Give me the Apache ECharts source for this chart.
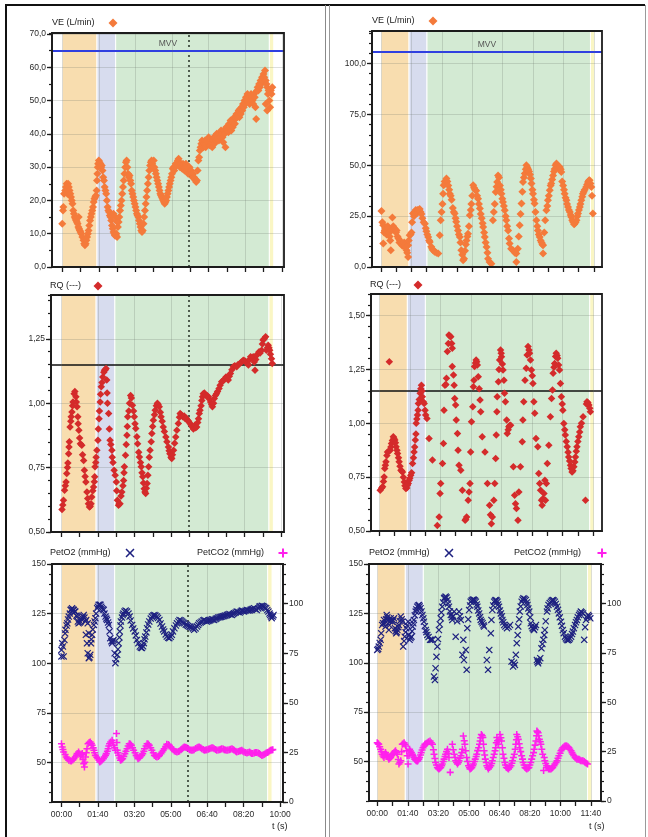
<!DOCTYPE html>
<html>
<head>
<meta charset="utf-8">
<script src="https://cdn.jsdelivr.net/npm/echarts@6/dist/echarts.min.js"></script>
<style>html,body{margin:0;padding:0;background:#fff;}#c{width:648px;height:837px;}</style>
</head>
<body>
<div id="c"></div>
<script>
// ---------------- DATA ----------------
// time in seconds, values in the units of each panel
const VE_L = [[0,13],[2,17],[3,18],[5,22],[8,23],[10,24],[12,25],[14,24],[14,22],[16,25],[18,24],[20,23],[22,22],[24,21],[26,20],[28,19],[30,17],[32,16],[34,15],[36,14.5],[38,14],[40,13.5],[42,13],[44,12],[46,11.5],[45,15],[48,11],[50,10.5],[52,10],[55,9],[58,8],[60,7],[62,6.5],[64,7],[66,8],[68,9],[70,10],[72,11],[74,12.5],[76,14],[78,15],[80,16],[82,17],[84,18],[86,19.5],[88,20.5],[90,21],[92,21.5],[94,23],[95,26],[96,28],[97,30],[98,31],[100,32],[102,31.5],[104,31],[106,30],[108,30.5],[110,29],[112,27],[114,26],[116,24],[118,23],[120,22],[122,20],[124,18],[126,17],[128,16.5],[130,15.5],[132,15],[134,14],[136,12.5],[138,11.5],[140,10.5],[142,10],[144,9.5],[146,9.5],[148,10],[150,9],[140,16],[145,15],[150,13.5],[152,12],[154,13.5],[156,15],[158,17],[160,18.5],[162,20],[164,22],[166,24],[168,26],[170,28],[172,30],[174,31.5],[176,32],[178,30],[180,28],[182,27],[184,27.5],[186,26],[188,25],[190,23],[192,22],[194,21],[196,20],[198,19],[200,18],[202,17],[204,16],[206,15.5],[208,15],[210,14],[212,13],[214,12],[216,11],[218,10.5],[220,11],[222,13],[224,15],[226,17],[228,19],[230,21],[232,23],[234,25],[236,27],[238,29],[240,30.5],[242,31.5],[244,32],[246,31],[248,30],[250,32],[252,30],[254,29],[256,28],[258,27],[260,26],[262,25],[264,24],[266,23],[268,22],[270,21.5],[272,21],[274,20.5],[276,20],[278,19.5],[280,19],[282,19.5],[284,20],[286,21],[288,22],[290,23],[292,24],[294,25],[296,26],[298,27],[300,28],[302,29.5],[304,30],[306,29],[308,30],[310,31],[312,30.5],[314,31],[316,32],[318,32.5],[320,31],[322,30],[324,31],[326,30],[328,29.5],[330,31],[332,30],[334,29],[336,30],[338,31],[340,29],[342,30],[344,28],[346,29],[348,30],[350,28.5],[352,29],[354,28],[356,27],[358,28],[360,27],[362,26.5],[364,26],[366,25.5],[368,26],[370,29],[372,32],[374,33],[376,35],[378,36],[380,37],[382,38],[384,36.5],[386,36],[388,37],[390,38],[392,36],[394,37],[396,38],[398,37],[400,39],[402,37],[404,36.5],[406,38],[408,37.5],[410,36],[412,38],[414,39],[416,37],[418,39],[420,38],[422,40],[424,38.5],[426,39],[428,38],[430,40],[432,39],[434,41],[436,40],[438,39],[440,37.5],[442,41],[444,40],[446,36],[448,42],[450,41],[452,42],[454,40.5],[456,43],[458,42],[460,44],[462,41],[464,43.5],[466,42],[468,44],[470,45],[472,43],[474,44.7],[476,46],[478,45],[480,46],[482,47],[484,45],[486,47.5],[488,46],[490,48],[492,47],[494,49],[496,48],[498,50],[500,49],[502,51],[504,50],[506,52],[508,50],[510,51],[512,49],[514,50.5],[516,52],[518,51],[520,50],[522,49],[524,52],[526,51],[528,48],[530,44.5],[532,53],[534,54],[536,53],[538,55],[540,54],[542,56],[544,55],[546,57],[548,56],[550,58],[552,57],[554,59],[556,56],[558,55],[560,54],[562,52],[564,53],[566,50],[568,48],[570,53],[572,52],[574,54],[560,47],[556,49]];

const VE_R = [[1,27.5],[4,22],[7,20.5],[7,11.5],[10,17],[12,18],[14,19],[16,19.6],[18,16],[20,18],[22,20],[24,19],[26,17],[28,15],[30,13],[32,8.2],[34,18],[37,24.3],[40,20],[43,19],[46,18.5],[49,17],[51,18],[54,15],[57,14],[60,12],[62,13],[65,12],[68,11],[70,10.5],[73,11],[76,12],[78,9.8],[80,11],[82,10],[84,8.2],[86,7],[89,4.9],[89,10.7],[91,13],[94,15.6],[97,16],[100,17],[102,22],[105,26.3],[108,25],[110,27],[112,26],[114,28],[116,27],[118,26.5],[120,28],[122,27],[124,27.9],[127,28.5],[130,27],[133,26],[136,24],[140,22],[144,21.3],[147,19],[149,17.6],[152,16],[155,14.8],[158,13],[160,12.3],[165,10],[168,9],[171,8.2],[176,7.5],[182,7],[188,6.6],[193,15.6],[196,23],[199,27],[202,31],[204,36],[206,40.2],[209,42],[212,41],[215,43.5],[218,42],[221,40],[224,38],[226,36],[229,35],[232,33],[236,29],[239,27],[242,26.3],[245,24],[247,22.3],[250,20],[253,18],[256,16],[259,14.8],[261,12],[264,8.2],[267,6],[270,3.3],[273,4],[276,8],[279,11],[281,13],[284,15],[286,16.4],[289,20],[292,25.4],[295,28],[297,31],[300,35],[303,40.2],[306,39],[309,38],[313,37.5],[316,35],[319,33.6],[322,31],[325,28.7],[328,26],[331,24],[334,21.5],[336,19.7],[339,17],[341,14.8],[344,12],[347,9.8],[350,7],[352,4.1],[357,2.5],[363,1.6],[368,23],[371,27],[374,31],[377,36.9],[380,39.5],[382,41.8],[385,45],[388,44],[391,40],[394,38],[396,36],[399,33.5],[401,31.9],[404,30],[407,27.9],[410,25],[412,23],[415,20],[418,18],[421,14],[423,11.5],[428,9],[434,8.2],[440,7],[445,6.6],[445,2.5],[450,9],[453,15],[456,20.5],[459,26],[462,31.2],[465,37],[467,41.8],[470,44],[473,45.9],[476,48],[478,50],[481,49],[484,48],[487,47],[490,45.5],[493,43.5],[495,41],[498,38],[500,36],[503,33],[505,31.2],[508,27],[511,23],[514,20],[516,18],[519,16],[522,14.8],[525,13],[528,12],[531,11],[533,10.7],[533,6.6],[537,17],[540,23],[544,27.9],[547,30],[549,32.8],[552,35],[555,37.7],[558,40],[560,41],[563,43],[566,45],[569,47],[571,48.2],[574,50],[577,50.9],[580,50],[583,49],[586,48],[588,49.2],[591,48],[593,46.7],[596,42],[599,40],[602,38],[604,36],[607,34],[610,32.8],[612,31],[615,29.5],[618,28],[621,27],[624,25.5],[626,24.6],[629,23],[632,22.1],[635,21],[637,21.3],[640,22],[643,23],[646,25],[648,26.3],[651,28],[654,29.5],[656,31],[659,32.8],[662,34.5],[664,36],[667,37],[670,38],[675,39.3],[678,40.5],[681,41.8],[684,42.5],[686,42.6],[689,41],[692,39.3],[694,35],[697,26.3]];

const RQ_L = [[2,0.587],[4,0.605],[6,0.623],[9,0.662],[11,0.68],[13,0.694],[15,0.727],[17,0.75],[18,0.768],[20,0.804],[21,0.83],[22,0.85],[24,0.908],[26,0.93],[27,0.947],[29,0.966],[31,0.99],[32,1.005],[35,1.037],[37,1.045],[40,1.025],[41,1.005],[43,0.986],[45,0.947],[46,0.92],[48,0.895],[50,0.865],[52,0.843],[56,0.837],[58,0.8],[61,0.778],[63,0.74],[65,0.715],[67,0.694],[70,0.655],[72,0.63],[74,0.61],[77,0.597],[79,0.6],[81,0.61],[83,0.636],[86,0.66],[88,0.675],[90,0.695],[91,0.714],[92,0.753],[94,0.77],[95,0.79],[97,0.817],[100,0.856],[101,0.9],[103,0.94],[104,0.97],[106,1.005],[107,1.035],[109,1.064],[111,1.08],[113,1.102],[116,1.12],[118,1.128],[120,1.13],[122,1.135],[124,1.09],[125,1.04],[126,1.0],[129,0.96],[131,0.9],[133,0.856],[135,0.84],[138,0.817],[139,0.79],[141,0.77],[144,0.74],[147,0.72],[150,0.694],[151,0.66],[153,0.623],[156,0.604],[158,0.61],[160,0.61],[163,0.64],[165,0.655],[168,0.68],[170,0.7],[171,0.73],[172,0.753],[175,0.798],[177,0.84],[179,0.876],[180,0.91],[181,0.947],[184,0.97],[186,1.0],[189,1.03],[191,1.02],[194,0.992],[197,0.97],[199,0.947],[201,0.92],[203,0.902],[206,0.87],[208,0.843],[211,0.81],[213,0.791],[216,0.77],[218,0.753],[220,0.73],[222,0.714],[224,0.69],[226,0.668],[228,0.655],[230,0.649],[232,0.67],[234,0.688],[236,0.72],[238,0.753],[240,0.79],[242,0.817],[245,0.85],[247,0.882],[249,0.91],[251,0.934],[254,0.955],[256,0.973],[259,0.99],[262,1.0],[264,0.995],[267,0.986],[270,0.965],[272,0.947],[275,0.93],[278,0.908],[281,0.89],[285,0.869],[288,0.85],[292,0.83],[294,0.815],[296,0.804],[299,0.79],[301,0.785],[303,0.8],[306,0.817],[309,0.845],[312,0.869],[315,0.895],[319,0.921],[322,0.945],[324,0.96],[327,0.955],[331,0.947],[335,0.95],[338,0.94],[341,0.942],[344,0.934],[347,0.93],[351,0.921],[354,0.915],[357,0.908],[360,0.9],[364,0.914],[366,0.905],[369,0.908],[372,0.925],[374,0.94],[376,0.96],[378,0.973],[381,0.99],[383,1.01],[385,1.025],[387,1.037],[390,1.04],[394,1.03],[397,1.03],[401,1.025],[404,1.015],[407,1.005],[410,0.995],[412,0.986],[415,1.0],[417,1.018],[420,1.03],[423,1.037],[426,1.045],[430,1.057],[433,1.07],[437,1.083],[440,1.085],[443,1.09],[446,1.095],[449,1.102],[452,1.1],[455,1.09],[458,1.105],[461,1.115],[465,1.13],[469,1.141],[473,1.145],[478,1.141],[482,1.15],[487,1.154],[491,1.16],[496,1.167],[500,1.165],[503,1.16],[507,1.155],[510,1.148],[513,1.17],[516,1.18],[520,1.175],[523,1.18],[526,1.16],[528,1.128],[530,1.17],[532,1.186],[535,1.19],[539,1.2],[542,1.195],[546,1.206],[548,1.23],[550,1.245],[553,1.25],[557,1.258],[559,1.206],[562,1.215],[564,1.225],[566,1.215],[568,1.206],[570,1.19],[573,1.173],[575,1.154]];

const RQ_R = [[3,0.689],[8,0.7],[11,0.705],[14,0.73],[16,0.751],[18,0.79],[20,0.805],[22,0.821],[25,0.85],[27,0.867],[31,0.87],[33,1.286],[36,0.875],[38,0.89],[40,0.906],[43,0.92],[46,0.937],[48,0.93],[51,0.922],[53,0.91],[55,0.891],[58,0.875],[60,0.86],[63,0.84],[65,0.821],[68,0.8],[71,0.782],[73,0.78],[76,0.774],[79,0.75],[82,0.728],[84,0.71],[87,0.697],[90,0.7],[92,0.712],[95,0.72],[98,0.736],[100,0.745],[103,0.759],[106,0.77],[109,0.813],[112,0.84],[114,0.867],[116,0.89],[118,0.922],[120,0.95],[121,1.0],[123,1.02],[125,1.038],[127,1.06],[128,1.092],[131,1.11],[134,1.139],[136,1.16],[138,1.177],[140,1.15],[141,1.123],[144,1.1],[147,1.092],[150,1.06],[152,1.038],[156,1.022],[163,0.929],[174,0.829],[190,0.526],[196,0.565],[199,0.674],[201,0.72],[207,0.813],[210,0.906],[212,1.061],[215,1.177],[218,1.18],[220,1.209],[223,1.333],[226,1.37],[228,1.41],[231,1.405],[234,1.402],[237,1.37],[239,1.348],[239,1.263],[243,1.224],[245,1.177],[247,1.115],[250,1.085],[252,1.015],[256,0.953],[258,0.875],[261,0.805],[267,0.782],[272,0.689],[281,0.55],[283,0.555],[286,0.565],[291,0.643],[294,0.681],[297,0.72],[299,0.867],[302,1.007],[306,1.077],[308,1.17],[310,1.2],[312,1.263],[315,1.28],[317,1.294],[319,1.285],[321,1.271],[324,1.216],[327,1.16],[330,1.108],[332,1.053],[337,0.937],[346,0.867],[354,0.72],[361,0.619],[364,0.575],[367,0.534],[370,0.565],[375,0.643],[378,0.72],[381,0.836],[383,0.945],[385,1.053],[386,1.123],[390,1.193],[392,1.25],[394,1.294],[397,1.34],[399,1.325],[400,1.309],[403,1.275],[405,1.247],[408,1.2],[410,1.139],[413,1.1],[417,1.015],[419,0.953],[422,0.97],[424,0.984],[427,0.99],[430,0.991],[439,0.798],[443,0.666],[446,0.627],[449,0.604],[454,0.55],[457,0.681],[462,0.798],[468,0.914],[470,1.015],[473,1.1],[477,1.2],[481,1.255],[484,1.317],[487,1.356],[490,1.34],[492,1.325],[495,1.294],[498,1.247],[501,1.22],[503,1.185],[506,1.1],[509,1.046],[513,0.929],[519,0.891],[522,0.767],[525,0.72],[528,0.689],[531,0.643],[533,0.619],[536,0.65],[539,0.674],[542,0.736],[544,0.643],[547,0.72],[550,0.813],[555,0.898],[560,1.03],[564,1.115],[567,1.154],[569,1.232],[572,1.26],[574,1.278],[577,1.31],[579,1.325],[582,1.315],[584,1.302],[587,1.27],[590,1.247],[593,1.185],[596,1.123],[599,1.09],[601,1.061],[604,0.999],[607,0.97],[609,0.945],[612,0.915],[615,0.891],[618,0.865],[620,0.844],[623,0.825],[626,0.805],[628,0.79],[631,0.774],[634,0.78],[637,0.798],[640,0.82],[642,0.844],[645,0.87],[647,0.891],[650,0.915],[653,0.937],[656,0.96],[658,0.984],[662,1.0],[667,1.03],[675,0.643],[678,1.09],[680,1.1],[683,1.095],[686,1.085],[689,1.07],[691,1.053]];

const PETO2_L = [[0,103.4],[0,106.7],[2,110],[4,108.4],[6,103.4],[8,111.7],[10,115],[11,116.8],[14,119],[16,120.1],[18,122],[20,123.5],[23,125],[25,126.8],[27,127],[29,127.7],[32,127],[34,126.8],[36,126],[38,126],[41,124],[43,123.5],[45,121],[47,120.1],[50,120.5],[52,121],[55,122],[57,122.7],[59,123.5],[61,124.3],[63,123],[66,121],[68,121.8],[67,114.3],[70,110],[72,105],[72,120.1],[75,102.5],[75,115.1],[77,103],[79,104.2],[81,110],[82,112],[84,114.3],[86,117],[89,119.3],[91,121],[93,122.7],[95,125],[98,127.7],[100,128.5],[102,129.4],[105,129.5],[107,129.4],[109,128.5],[111,127.7],[114,127.2],[116,126.8],[118,125],[121,123.5],[123,122.5],[125,121.8],[128,120.5],[130,119.3],[132,116],[134,112.6],[137,111],[139,110.1],[141,111],[143,111.7],[146,105],[148,100],[150,102],[153,104.2],[155,107],[157,110.1],[159,113],[160,116],[162,119],[163,121],[166,123],[168,124.3],[170,125],[173,126],[176,126.5],[180,126],[184,125],[187,123.5],[190,121.5],[194,119.3],[197,117.5],[201,116],[204,114],[207,111.7],[211,110],[215,108.4],[218,107.8],[221,107.6],[224,108.5],[226,110.1],[228,112],[230,113.4],[233,115.5],[235,117.6],[238,119.5],[241,121],[245,122.5],[248,123.5],[252,124],[255,124.3],[258,124],[262,123.5],[265,122.8],[269,121.8],[272,120],[276,118.5],[279,117],[282,116],[286,114.5],[289,113.4],[293,112.8],[296,112.6],[300,113.3],[303,114.3],[306,116],[310,117.6],[314,119],[317,120.1],[321,121],[324,121.8],[328,121.5],[331,121],[334,120.5],[337,120.1],[341,119.5],[344,119.3],[347,118.8],[351,118.5],[354,118.3],[358,118.1],[361,117.5],[364,116.8],[368,117.5],[372,118.5],[375,119.3],[378,120.1],[382,120.5],[385,121],[389,121.5],[392,121.8],[396,121.3],[399,121],[403,121.2],[406,121.5],[409,121.8],[413,122.1],[416,122],[419,121.8],[423,122.3],[426,122.7],[430,123],[434,123.2],[437,123.3],[440,123.5],[444,123.6],[447,123.8],[450,124],[454,124.3],[457,124.5],[461,124.8],[464,124.5],[468,124.3],[471,124.8],[474,125.2],[478,125.5],[481,126],[485,125.8],[489,125.5],[492,126],[495,126.5],[498,126.3],[501,126],[505,126.4],[509,126.8],[512,126.6],[516,126.5],[519,126.9],[522,127.2],[525,127.4],[529,127.7],[532,127.2],[536,126.8],[540,127.6],[543,128.5],[546,128.7],[550,128.9],[553,128.7],[556,128.5],[559,128],[562,127.7],[565,126.8],[568,126],[571,125],[573,124.3],[575,123.5],[577,122.7],[580,123.5],[582,124.3]];

const PETCO2_L = [[0,29.4],[2,27.7],[4,26.5],[6,25.2],[10,24],[13,22.7],[16,21.8],[20,21],[24,20.8],[27,20.7],[31,21.2],[34,21.8],[38,22.7],[41,23.5],[43,24.4],[47,25.2],[50,24.3],[52,23.5],[55,23.8],[57,24.4],[59,21.5],[61,19.3],[63,17.6],[64,20],[66,22.7],[68,24.8],[70,26.9],[73,29.4],[76,30],[79,30.3],[82,29.5],[84,28.6],[87,27.3],[89,26.1],[91,24.8],[93,23.5],[97,22.6],[100,21.8],[103,21],[105,20.2],[108,20.5],[111,21],[115,21.8],[118,22.7],[121,23.5],[123,24.4],[126,25.6],[128,26.9],[130,28.2],[132,29.4],[135,30.3],[139,31.1],[141,30],[143,28.6],[146,27.4],[148,26.1],[151,34.5],[152,30],[153,26.1],[155,24.8],[157,23.5],[160,22.2],[162,21],[165,21.3],[168,21.8],[171,23],[174,24.4],[177,25.6],[180,26.9],[183,28.2],[186,29.4],[189,29.2],[192,28.6],[195,27.4],[198,26.1],[202,24.8],[205,23.5],[208,22.7],[210,21.8],[213,22.2],[216,22.7],[220,23.5],[223,24.4],[226,25.6],[228,26.9],[232,28.2],[235,29.4],[238,29.2],[241,28.6],[245,27.4],[248,26.1],[252,24.8],[255,23.5],[259,23],[262,22.7],[266,23],[269,23.5],[273,24.4],[276,25.2],[279,26],[282,26.9],[286,28],[289,29.1],[293,29],[296,28.6],[300,27.7],[303,26.9],[307,26.3],[310,25.7],[314,25.4],[317,25.2],[321,25.4],[324,25.7],[328,26.3],[331,26.9],[334,27.3],[337,27.7],[341,27.6],[344,27.4],[348,27],[351,26.4],[355,26.2],[358,26.1],[361,26.2],[364,26.4],[368,27],[372,27.4],[375,27.6],[378,27.7],[382,27.3],[385,26.9],[389,26.5],[392,26.1],[396,26.2],[399,26.4],[403,26.6],[406,26.9],[410,27.1],[413,27.4],[416,27.2],[419,26.9],[423,26.5],[426,26.1],[430,26.2],[434,26.4],[437,26.6],[440,26.9],[444,26.7],[447,26.4],[450,26.2],[454,26.1],[457,26.2],[461,26.4],[464,26.6],[468,26.9],[471,26.5],[474,26.1],[478,25.6],[481,25.2],[485,25.4],[489,25.7],[492,25.9],[495,26.1],[498,25.6],[501,25.2],[505,25],[509,24.7],[512,24.9],[516,25.2],[519,24.8],[522,24.4],[525,24.5],[529,24.7],[532,24.9],[536,25],[540,24.7],[543,24.4],[546,23.9],[550,23.5],[553,23.7],[556,23.9],[559,24.3],[562,24.7],[565,25],[568,25.2],[571,25.7],[574,26.1],[577,26.2],[580,26.4]];

const PETO2_R = [[0,106.5],[3,107],[5,108.2],[8,110],[11,111.6],[13,114.9],[16,119.1],[19,120],[22,121.7],[25,120],[27,118.3],[29,122],[31,124.2],[33,123],[35,121.7],[38,116.6],[40,119],[42,121],[44,122.5],[47,121.5],[49,120.8],[52,121.5],[55,122.5],[58,117.5],[60,116],[62,114.9],[64,115.5],[66,116.6],[69,118],[71,119.1],[74,121],[77,123.4],[80,122],[82,120.8],[85,108.2],[88,111],[90,113.2],[93,115.5],[95,117.5],[98,119],[101,120.8],[104,114],[106,111.6],[109,112.5],[112,113.2],[114,116],[116,118.3],[118,120],[120,121.7],[123,124],[126,125.9],[128,127],[131,128.4],[134,129],[137,129.3],[139,128.5],[142,127.6],[145,126],[148,124.2],[151,122.5],[153,120.8],[156,118.5],[159,116.6],[161,115.5],[164,114.1],[168,113],[173,111.6],[177,111.6],[181,111.6],[186,93],[189,91.3],[191,97.2],[194,103],[197,108.2],[199,112],[202,116.6],[205,119.5],[208,122.5],[210,125.5],[213,128.4],[216,130.5],[219,132.6],[221,133],[224,133.5],[227,133],[230,131.8],[232,130],[235,128.4],[238,126],[241,124.2],[244,123],[246,121.7],[249,123.5],[252,125.9],[257,113.2],[262,121],[268,125.9],[271,123.5],[274,121.7],[279,104],[282,111.6],[284,101.4],[290,106.5],[293,96.4],[295,117.5],[298,122],[301,126.7],[304,129],[306,130.9],[309,131.5],[312,131.8],[315,132],[317,131.8],[320,131.5],[323,130.9],[326,129.5],[328,128.4],[331,126.5],[334,125],[337,123.2],[339,121.7],[342,120.8],[345,120],[348,119],[350,118.3],[359,101.4],[363,96.4],[367,106.5],[372,114.9],[374,121.7],[377,126.7],[380,129],[383,130.9],[386,131.5],[388,131.8],[391,131.5],[394,130.9],[396,129.5],[399,128.4],[402,126.5],[405,125],[408,123.5],[410,121.7],[413,120.5],[416,119.1],[420,118.3],[425,117.5],[430,118.2],[435,119.1],[440,100.6],[445,98.1],[448,100],[451,98.9],[454,104],[457,109.9],[460,114],[462,118.3],[465,122],[467,125.9],[470,128.5],[473,130.9],[476,132],[479,132.6],[483,132.3],[487,131.8],[490,130.5],[492,129.3],[495,127.5],[498,125.9],[501,123],[503,120],[506,118.5],[509,117.5],[512,117],[514,116.6],[517,118],[520,119.1],[523,101.4],[525,100.5],[527,99.7],[530,101],[534,102.3],[538,107.3],[541,109.5],[544,111.6],[547,114],[549,116.6],[552,121],[556,125.9],[558,127.5],[561,129.3],[565,130.2],[569,130.9],[572,131.5],[575,131.8],[578,131.5],[582,130.9],[585,129.8],[589,128.4],[592,126.8],[595,125],[598,123],[602,120.8],[605,118.7],[608,116.6],[611,115],[615,113.2],[618,112.3],[621,111.6],[624,111.4],[628,111.6],[631,112.3],[635,113.2],[638,114.5],[641,115.8],[644,117.5],[648,119.1],[651,120.5],[654,121.7],[657,123],[661,124.2],[664,125],[667,125.9],[670,125.5],[674,125],[678,111.6],[681,118],[684,121.7],[688,123],[691,124.2],[694,123.5],[698,122.5]];

const PETCO2_R = [[0,29.5],[3,29],[5,28.7],[8,27.5],[11,26.2],[14,25],[16,23.7],[19,22.8],[22,22],[25,23.3],[27,24.5],[30,23.7],[33,22.9],[36,22],[38,21.2],[41,21.6],[44,22],[47,22.9],[49,23.7],[52,24.1],[55,24.5],[58,25],[60,25.4],[63,24.5],[66,23.7],[69,21],[71,18.7],[74,19.5],[77,20.4],[80,25],[82,28.7],[85,29],[88,29.5],[91,28.7],[93,27.9],[96,25.4],[98,22.9],[101,18.7],[104,23],[106,26.2],[109,25.3],[112,24.5],[115,23.7],[117,22.9],[120,22],[123,21.2],[126,20.8],[128,20.4],[131,20.3],[133,20.4],[136,21.2],[139,22],[142,23.3],[144,24.5],[147,25.8],[150,27],[153,27.9],[156,28.7],[160,29.1],[164,29.5],[168,30],[173,30.4],[177,29.5],[181,28.7],[184,26],[186,23.7],[189,21.5],[191,19.5],[194,18.2],[197,17],[200,16.5],[202,16.2],[205,16.6],[208,17],[211,17.8],[213,18.7],[216,20],[219,21.2],[222,22.5],[224,23.7],[227,25],[230,26.2],[233,24],[235,22],[239,14.5],[246,28.7],[249,26],[252,23.7],[255,22],[257,20.4],[260,19.5],[263,18.7],[266,19.5],[268,20.4],[271,21.7],[274,22.9],[277,24.5],[279,26.2],[282,32.9],[285,30.5],[287,28.7],[290,25.4],[293,22],[296,20],[299,17.9],[302,17],[304,16.2],[307,16.5],[310,17],[313,17.9],[315,18.7],[318,20],[321,21.2],[324,22.5],[326,23.7],[329,25.5],[332,27],[335,28.7],[337,30.4],[339,32],[341,33.7],[344,33],[346,32.1],[348,28.7],[350,25.4],[352,23.3],[354,21.2],[357,19.5],[359,17.9],[362,17],[364,16.2],[368,17],[372,17.9],[375,19],[377,20.4],[380,22],[383,23.7],[386,25.4],[388,27],[390,29.5],[392,32.1],[394,30.5],[396,28.7],[399,31],[402,33.7],[405,32],[407,30.4],[410,27],[412,23.7],[415,21.6],[418,19.5],[420,18.2],[423,17],[427,16.6],[430,16.2],[434,17],[438,17.9],[441,19.1],[443,20.4],[446,22],[449,23.7],[452,26.2],[454,28.7],[456,31],[457,33.7],[460,32.5],[462,31.2],[465,29],[467,27],[470,25],[473,22.9],[476,21.2],[478,19.5],[481,18.2],[484,17],[487,16.6],[490,16.2],[494,16.6],[497,17],[500,18.2],[503,19.5],[506,21.2],[509,22.9],[512,24.5],[514,26.2],[517,28.3],[520,30.4],[522,33],[523,35.4],[525,35],[527,34.6],[529,33],[531,31.2],[534,30],[536,28.7],[539,26.2],[542,23.7],[545,15.4],[547,22],[549,20.4],[552,19],[555,17.9],[558,17],[561,16.2],[565,16.2],[569,16.2],[572,16.6],[575,17],[579,17.8],[582,18.7],[586,19.5],[589,20.4],[592,21.6],[595,22.9],[599,24.2],[602,25.4],[605,26.2],[608,27],[612,27.5],[615,27.9],[618,27.9],[621,27.9],[625,27.5],[628,27],[631,26.2],[635,25.4],[638,24.5],[641,23.7],[644,22.9],[648,22],[651,21.6],[654,21.2],[658,21.2],[661,21.2],[664,20.8],[667,20.4],[671,20.4],[674,20.4],[678,20],[681,19.5],[685,19.1],[689,18.7]];

// Phase boundaries (s): rest | warm-up | exercise | recovery
const PHASES_L = [0, 95, 146, 566, 578];
const PHASES_R = [0, 92, 151, 689, 703];
const THRESHOLD_T_L = 347;          // vertical dotted marker, left test
const MVV_L = 65, MVV_R = 106;      // maximal voluntary ventilation
const RQ_REF = 1.15;

// Tick values / labels
const X_TICKS_L = [0,50,100,150,200,250,300,350,400,450,500,550,600];
const X_LABELS_L = [0,100,200,300,400,500,600];
const X_TICKS_R = [0,50,100,150,200,250,300,350,400,450,500,550,600,650,700];
const X_LABELS_R = [0,100,200,300,400,500,600,700];
const VE_L_TICKS = [0,10,20,30,40,50,60,70];
const VE_R_TICKS = [0,25,50,75,100];
const RQ_L_TICKS = [0.5,0.75,1,1.25];
const RQ_R_TICKS = [0.5,0.75,1,1.25,1.5];
const PO2_TICKS = [50,75,100,125,150];
const PCO2_TICKS = [0,25,50,75,100];

// ---------------- CHART ----------------
const FONT = 'Liberation Sans';
const INK = '#1c1c1c';
const BAND_COLORS = ['#F8DDAF', '#D7DCEE', '#D3EAD3', '#FAF6C4'];
const X_PTS = [[1.2,0],[5,3.8],[8.8,0],[10,1.2],[6.2,5],[10,8.8],[8.8,10],[5,6.2],[1.2,10],[0,8.8],[3.8,5],[0,1.2]];
const PLUS_PTS = [[3.9,0],[6.1,0],[6.1,3.9],[10,3.9],[10,6.1],[6.1,6.1],[6.1,10],[3.9,10],[3.9,6.1],[0,6.1],[0,3.9],[3.9,3.9]];
const toPath = (pts) => 'path://M' + pts.map((p) => p[0] + ',' + p[1]).join('L') + 'Z';
const SYM_X = toPath(X_PTS);
const SYM_PLUS = toPath(PLUS_PTS);

function fmtT(v) {
  const m = Math.floor(v / 60), s = Math.round(v - m * 60);
  return String(m).padStart(2, '0') + ':' + String(s).padStart(2, '0');
}
const comma = (d) => (v) => v.toFixed(d).replace('.', ',');

const grids = [], xAxes = [], yAxes = [], series = [];

function addPanel(p) {
  const gi = grids.length;
  grids.push({ left: p.left, top: p.top, width: p.width, height: p.height, show: true,
    borderColor: INK, borderWidth: 1.8, backgroundColor: 'rgba(0,0,0,0)', z: 10 });
  const xi = xAxes.length;
  xAxes.push({ gridIndex: gi, type: 'value', position: 'bottom', min: p.xMin, max: p.xMax, z: 3,
    axisLine: { show: true, onZero: false, lineStyle: { color: INK, width: 1.8 } },
    axisTick: { show: true, customValues: p.xTicks, length: 5, lineStyle: { color: INK, width: 1.3 } },
    axisLabel: { show: p.xLabelsShow, customValues: p.xLabels, formatter: fmtT, margin: 8,
      color: '#2a2a2a', fontSize: 8.5, fontFamily: FONT },
    splitLine: { show: false } });
  xAxes.push({ gridIndex: gi, type: 'value', position: 'bottom', min: p.xMin, max: p.xMax, z: 3,
    axisLine: { show: false, onZero: false }, axisTick: { show: false, customValues: p.xLabels },
    axisLabel: { show: false },
    splitLine: { show: true, lineStyle: { color: 'rgba(100,110,100,0.22)', width: 1 } } });
  const yi = yAxes.length;
  const yMain = (pos, min, max, majors, fmt, split) => ({ gridIndex: gi, type: 'value', position: pos, min, max, z: 3,
    axisLine: { show: true, onZero: false, lineStyle: { color: INK, width: 1.8 } },
    axisTick: { show: true, customValues: majors, length: 5, lineStyle: { color: INK, width: 1.3 } },
    axisLabel: { show: true, customValues: majors, formatter: fmt, margin: 6, color: '#2a2a2a', fontSize: 8.5, fontFamily: FONT },
    splitLine: { show: split, lineStyle: { color: 'rgba(100,110,100,0.22)', width: 1 } } });
  const yMinor = (pos, min, max, step) => ({ gridIndex: gi, type: 'value', position: pos, min, max, interval: step, z: 3,
    axisLine: { show: false, onZero: false }, axisTick: { show: true, length: 3, lineStyle: { color: INK, width: 1.2 } },
    axisLabel: { show: false }, splitLine: { show: false } });
  yAxes.push(yMain('left', p.yMin, p.yMax, p.yTicks, p.yFmt, true));
  yAxes.push(yMinor('left', p.yMin, p.yMax, p.yMinor));
  let yRight = null;
  if (p.y2) {
    yRight = yAxes.length;
    yAxes.push(yMain('right', p.y2.min, p.y2.max, p.y2.ticks, (v) => String(v), false));
    yAxes.push(yMinor('right', p.y2.min, p.y2.max, p.y2.minor));
  }
  const ph = p.phases;
  const areas = [];
  for (let i = 0; i < ph.length - 1; i++) {
    areas.push([{ xAxis: ph[i], itemStyle: { color: BAND_COLORS[i], borderColor: '#ffffff', borderWidth: 1 } }, { xAxis: ph[i + 1] }]);
  }
  const lines = [];
  if (p.vline != null) lines.push({ xAxis: p.vline, lineStyle: { color: '#2e3a2e', type: [2, 3], width: 1.6 }, label: { show: false } });
  if (p.mvv != null) lines.push({ yAxis: p.mvv, lineStyle: { color: '#2F3FE0', type: 'solid', width: 2 },
    label: { show: true, position: 'insideMiddleTop', formatter: 'MVV', color: '#555', fontSize: 8.5, fontFamily: FONT, distance: 2 } });
  if (p.ref != null) lines.push({ yAxis: p.ref, lineStyle: { color: '#111', type: 'solid', width: 1.5 }, label: { show: false } });
  series.push({ type: 'scatter', xAxisIndex: xi, yAxisIndex: yi, data: [], z: 1, silent: true,
    markArea: { silent: true, data: areas },
    markLine: { silent: true, symbol: 'none', z: 3, animation: false, data: lines } });
  p.series.forEach((s) => {
    series.push({ type: 'scatter', name: s.name, xAxisIndex: xi, yAxisIndex: s.right ? yRight : yi,
      data: s.data, symbol: s.symbol, symbolSize: s.size, z: 5,
      itemStyle: { color: s.color, opacity: 1 } });
  });
}

// left column
addPanel({ left: 52, top: 33, width: 232, height: 234, xMin: -28, xMax: 606, xTicks: X_TICKS_L, xLabels: X_LABELS_L, xLabelsShow: false,
  yMin: 0, yMax: 70.3, yTicks: VE_L_TICKS, yFmt: comma(1), yMinor: 5, phases: PHASES_L, vline: THRESHOLD_T_L, mvv: MVV_L,
  series: [{ name: 'VE', data: VE_L, symbol: 'diamond', size: 8, color: '#F47A3B' }] });
addPanel({ left: 51, top: 295, width: 233, height: 237, xMin: -28, xMax: 607, xTicks: X_TICKS_L, xLabels: X_LABELS_L, xLabelsShow: false,
  yMin: 0.5, yMax: 1.42, yTicks: RQ_L_TICKS, yFmt: comma(2), yMinor: 0.05, phases: PHASES_L, vline: THRESHOLD_T_L, ref: RQ_REF,
  series: [{ name: 'RQ', data: RQ_L, symbol: 'diamond', size: 7.5, color: '#D42B2B' }] });
addPanel({ left: 52, top: 564, width: 231, height: 238, xMin: -26, xMax: 608, xTicks: X_TICKS_L, xLabels: X_LABELS_L, xLabelsShow: true,
  yMin: 30, yMax: 150, yTicks: PO2_TICKS, yFmt: (v) => String(v), yMinor: 5, phases: PHASES_L, vline: THRESHOLD_T_L,
  y2: { min: 0, max: 120, ticks: PCO2_TICKS, minor: 5 },
  series: [{ name: 'PetO2', data: PETO2_L, symbol: SYM_X, size: 7, color: '#1E2180' },
           { name: 'PetCO2', data: PETCO2_L, symbol: SYM_PLUS, size: 7, color: '#FF20EC', right: true }] });
// right column
addPanel({ left: 372, top: 31, width: 230, height: 236, xMin: -30, xMax: 727, xTicks: X_TICKS_R, xLabels: X_LABELS_R, xLabelsShow: false,
  yMin: 0, yMax: 116, yTicks: VE_R_TICKS, yFmt: comma(1), yMinor: 5, phases: PHASES_R, mvv: MVV_R,
  series: [{ name: 'VE', data: VE_R, symbol: 'diamond', size: 8, color: '#F47A3B' }] });
addPanel({ left: 371, top: 294, width: 231, height: 237, xMin: -27, xMax: 729, xTicks: X_TICKS_R, xLabels: X_LABELS_R, xLabelsShow: false,
  yMin: 0.5, yMax: 1.6, yTicks: RQ_R_TICKS, yFmt: comma(2), yMinor: 0.05, phases: PHASES_R, ref: RQ_REF,
  series: [{ name: 'RQ', data: RQ_R, symbol: 'diamond', size: 7.5, color: '#D42B2B' }] });
addPanel({ left: 369, top: 564, width: 232, height: 237, xMin: -27, xMax: 733, xTicks: X_TICKS_R, xLabels: X_LABELS_R, xLabelsShow: true,
  yMin: 30, yMax: 150, yTicks: PO2_TICKS, yFmt: (v) => String(v), yMinor: 5, phases: PHASES_R,
  y2: { min: 0, max: 120, ticks: PCO2_TICKS, minor: 5 },
  series: [{ name: 'PetO2', data: PETO2_R, symbol: SYM_X, size: 7, color: '#1E2180' },
           { name: 'PetCO2', data: PETCO2_R, symbol: SYM_PLUS, size: 7, color: '#FF20EC', right: true }] });

// titles / legend keys (decorations)
const txt = (x, y, t) => ({ type: 'text', x, y, z: 20, style: { text: t, fill: '#222', font: '9px "' + FONT + '"', textVerticalAlign: 'middle' } });
const diamond = (cx, cy, r, c) => ({ type: 'polygon', z: 20, shape: { points: [[cx, cy - r], [cx + r, cy], [cx, cy + r], [cx - r, cy]] }, style: { fill: c } });
const polyIcon = (pts, cx, cy, s, c) => ({ type: 'polygon', z: 20, shape: { points: pts.map((p) => [cx - s / 2 + p[0] * s / 10, cy - s / 2 + p[1] * s / 10]) }, style: { fill: c } });
const line = (x1, y1, x2, y2, c, w) => ({ type: 'line', z: 20, shape: { x1, y1, x2, y2 }, style: { stroke: c, lineWidth: w } });

const graphic = [
  line(5, 5, 645, 5, '#111', 2),
  line(6, 5, 6, 837, '#111', 2),
  line(325.5, 5, 325.5, 837, '#8a8a8a', 1),
  line(329.5, 5, 329.5, 837, '#9a9a9a', 1),
  line(645.5, 5, 645.5, 837, '#9a9a9a', 1),
  txt(52, 23, 'VE (L/min)'), diamond(113, 23, 4.5, '#F47A3B'),
  txt(372, 21, 'VE (L/min)'), diamond(433, 21, 4.5, '#F47A3B'),
  txt(50, 286, 'RQ (---)'), diamond(98, 286, 4.5, '#D42B2B'),
  txt(370, 285, 'RQ (---)'), diamond(418, 285, 4.5, '#D42B2B'),
  txt(50, 553, 'PetO2 (mmHg)'), polyIcon(X_PTS, 130, 553, 9, '#1E2180'),
  txt(197, 553, 'PetCO2 (mmHg)'), polyIcon(PLUS_PTS, 283, 553, 9, '#FF20EC'),
  txt(369, 553, 'PetO2 (mmHg)'), polyIcon(X_PTS, 449, 553, 9, '#1E2180'),
  txt(514, 553, 'PetCO2 (mmHg)'), polyIcon(PLUS_PTS, 602, 553, 9, '#FF20EC'),
  txt(272, 827, 't (s)'),
  txt(589, 827, 't (s)')
];

const chart = echarts.init(document.getElementById('c'), null, { renderer: 'canvas' });
chart.setOption({ animation: false, backgroundColor: '#ffffff', textStyle: { fontFamily: FONT }, graphic: graphic });
try {
  chart.setOption({ grid: grids, xAxis: xAxes, yAxis: yAxes, series: series });
} catch (e) { console.error(e && e.stack); }
</script>
</body>
</html>
